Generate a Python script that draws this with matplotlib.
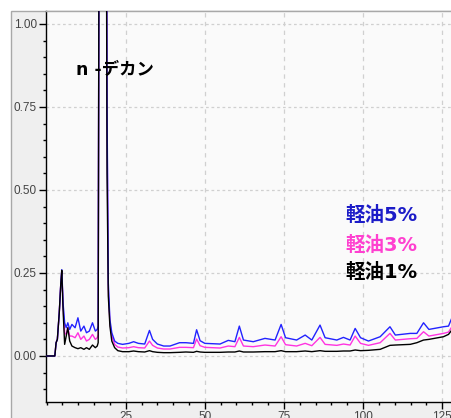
import matplotlib
matplotlib.use("Agg")
import matplotlib.pyplot as plt
from matplotlib import font_manager as fm
from matplotlib.patches import Rectangle
from matplotlib.ticker import MultipleLocator, FixedLocator, FixedFormatter

# ---------------- data ----------------
time = [0, 2.6, 3.0, 3.4, 4.0, 4.5, 4.8, 5.2, 5.7, 6.2, 6.7, 7.3, 8.0, 9.0, 9.9,
        10.8, 11.8, 12.6, 13.5, 14.5, 15.4, 16.0, 16.3, 16.7, 17.7, 18.7, 19.1,
        19.5, 20.0, 20.6, 21.5, 22.5, 24, 26, 27.5, 29, 31, 32.5, 33.5, 35, 37,
        39, 42, 44, 46.4, 47.4, 48.5, 50, 54.8, 57.4, 59.5, 60.9, 62.2, 65.3,
        69, 72.2, 74.1, 75.5, 79, 81.7, 83.8, 86.4, 88, 91.7, 93.8, 95.9, 97.5,
        99.2, 101.7, 105.4, 108.5, 110.2, 114.9, 117, 119.1, 120.8, 125.4, 127,
        128.2]

oil5 = [0, 0, 0.04, 0.05, 0.13, 0.22, 0.26, 0.16, 0.10, 0.085, 0.10, 0.08,
        0.095, 0.085, 0.115, 0.075, 0.09, 0.07, 0.075, 0.10, 0.075, 0.08, 0.09,
        2.0, 3.5, 2.3, 0.75, 0.22, 0.11, 0.07, 0.045, 0.038, 0.035, 0.038, 0.043,
        0.038, 0.036, 0.077, 0.05, 0.036, 0.030, 0.030, 0.040, 0.040, 0.038,
        0.079, 0.046, 0.038, 0.036, 0.047, 0.043, 0.090, 0.048, 0.043, 0.053,
        0.048, 0.095, 0.055, 0.048, 0.063, 0.048, 0.093, 0.055, 0.048, 0.056,
        0.048, 0.083, 0.055, 0.045, 0.058, 0.088, 0.063, 0.068, 0.068, 0.100,
        0.080, 0.088, 0.090, 0.118]

oil3 = [0, 0, 0.04, 0.05, 0.13, 0.22, 0.255, 0.15, 0.07, 0.065, 0.085, 0.06,
        0.06, 0.055, 0.07, 0.05, 0.06, 0.045, 0.05, 0.065, 0.05, 0.055, 0.065,
        2.0, 3.5, 2.2, 0.7, 0.2, 0.10, 0.06, 0.035, 0.027, 0.024, 0.025, 0.028,
        0.025, 0.024, 0.045, 0.032, 0.024, 0.021, 0.021, 0.026, 0.026, 0.025,
        0.051, 0.031, 0.026, 0.024, 0.030, 0.028, 0.056, 0.030, 0.028, 0.033,
        0.030, 0.058, 0.034, 0.030, 0.038, 0.031, 0.056, 0.035, 0.032, 0.036,
        0.033, 0.060, 0.038, 0.032, 0.040, 0.068, 0.048, 0.052, 0.053, 0.073,
        0.060, 0.068, 0.072, 0.090]

oil1 = [0, 0, 0.04, 0.05, 0.13, 0.22, 0.258, 0.14, 0.035, 0.06, 0.085, 0.045,
        0.03, 0.025, 0.022, 0.025, 0.02, 0.025, 0.02, 0.033, 0.025, 0.03, 0.04,
        2.0, 3.5, 2.0, 0.55, 0.18, 0.09, 0.045, 0.025, 0.016, 0.013, 0.013, 0.015,
        0.013, 0.012, 0.016, 0.013, 0.011, 0.010, 0.010, 0.011, 0.012, 0.011,
        0.014, 0.012, 0.011, 0.011, 0.012, 0.012, 0.015, 0.012, 0.012, 0.013,
        0.013, 0.016, 0.013, 0.013, 0.015, 0.013, 0.016, 0.014, 0.014, 0.015,
        0.015, 0.018, 0.016, 0.017, 0.020, 0.032, 0.033, 0.035, 0.040, 0.048,
        0.050, 0.058, 0.065, 0.080]

y_ticks = [0.0, 0.25, 0.5, 0.75, 1.0]
y_tick_labels = ["0.00", "0.25", "0.50", "0.75", "1.00"]
x_ticks = [25, 50, 75, 100, 125]
x_tick_labels = ["25", "50", "75", "100", "125"]

series_labels = ["軽油5%", "軽油3%", "軽油1%"]
peak_label = "n -デカン"

# ---------------- fonts ----------------
names = {f.name for f in fm.fontManager.ttflist}
tick_font = "Liberation Sans Narrow" if "Liberation Sans Narrow" in names else "Liberation Sans"
lab_font = ["DejaVu Sans", "Noto Sans CJK JP"]

W, H = 452, 418
fig = plt.figure(figsize=(W / 100, H / 100), dpi=100, facecolor="white")

# outer panel
panel = Rectangle((11 / W, -0.01), 1.01 - 11 / W, 1.01 - 11 / H,
                  transform=fig.transFigure, facecolor="#efefef",
                  edgecolor="#a8a8a8", linewidth=1.0, zorder=-10)
fig.add_artist(panel)

ax = fig.add_axes([46 / W, 1 - 402 / H, 1 - 46 / W + 0.01, (402 - 11) / H])
ax.set_zorder(1)
ax.set_facecolor("#fafafa")

ax.plot(time, oil3, color="#ff33e0", lw=1.0, zorder=3)
ax.plot(time, oil5, color="#2222ff", lw=1.0, zorder=4)
ax.plot(time, oil1, color="black", lw=1.0, zorder=5)

ax.set_xlim(-0.19, 128.1 + 0.01 * W / 3.164)
ax.set_ylim(-0.1386, 1.039)

ax.xaxis.set_major_locator(FixedLocator(x_ticks))
ax.xaxis.set_major_formatter(FixedFormatter(x_tick_labels))
ax.xaxis.set_minor_locator(MultipleLocator(5))
ax.yaxis.set_major_locator(FixedLocator(y_ticks))
ax.yaxis.set_major_formatter(FixedFormatter(y_tick_labels))
ax.yaxis.set_minor_locator(MultipleLocator(0.05))

ax.tick_params(axis="both", which="major", length=5, width=1, color="black",
               labelsize=8.5, labelcolor="#444444", pad=1.5, direction="out")
ax.tick_params(axis="both", which="minor", length=2.5, width=1, color="black",
               direction="out")
for lab in ax.get_xticklabels() + ax.get_yticklabels():
    lab.set_family(tick_font)

ax.grid(True, which="major", axis="y", color="#d0d0d0", linestyle=(0, (2.2, 2.2)), lw=0.9)
ax.grid(True, which="major", axis="x", color="#d0d0d0", linestyle=(0, (3.5, 3.5)), lw=0.9)
ax.set_axisbelow(True)

for s in ["left", "bottom"]:
    ax.spines[s].set_color("black")
    ax.spines[s].set_linewidth(1.0)
ax.spines["top"].set_color("#a8a8a8")
ax.spines["top"].set_linewidth(1.0)
ax.spines["right"].set_visible(False)

ax.text(9.3, 0.861, peak_label, family=lab_font, fontsize=12.5, fontweight="bold",
        color="black", ha="left", va="center", zorder=6)

colors_txt = ["#1c1cc8", "#ff40d0", "black"]
ys = [0.422, 0.334, 0.25]
for lab, c, yv in zip(series_labels, colors_txt, ys):
    ax.text(94.3, yv, lab, family=lab_font, fontsize=14, fontweight="bold",
            color=c, ha="left", va="center", zorder=6)

fig.savefig("out.png", dpi=100, facecolor="white")
